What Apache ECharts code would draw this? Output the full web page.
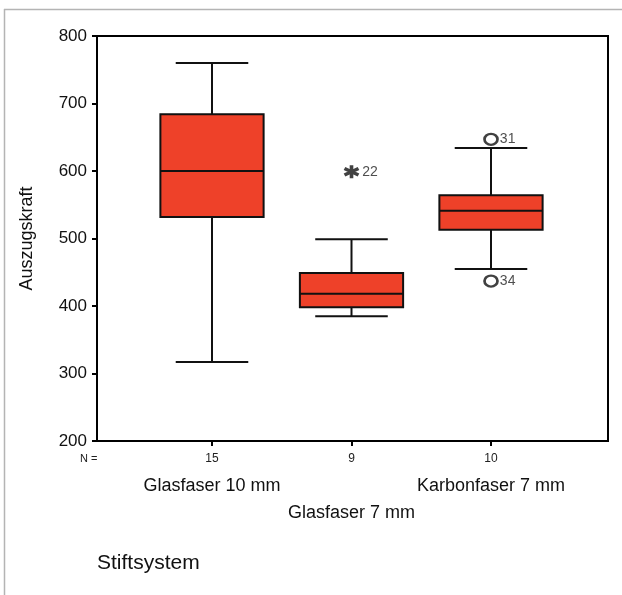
<!DOCTYPE html>
<html><head><meta charset="utf-8">
<script src="https://cdn.jsdelivr.net/npm/echarts@6/dist/echarts.min.js"></script>
<style>html,body{margin:0;padding:0;background:#fff}#c{width:622px;height:595px}</style>
</head><body><div id="c"></div>
<script>
var categories = ['Glasfaser 10 mm', 'Glasfaser 7 mm', 'Karbonfaser 7 mm'];
var nValues = ['15', '9', '10'];
// [low whisker, Q1, median, Q3, high whisker]
var glas10 = [317, 532, 600, 684, 760];
var glas7 = [385, 398, 418, 449, 499];
var karbon7 = [455, 513, 541, 564, 634];
var extremes = [[1, 599, '22']];           // asterisk
var outliers = [[2, 647, '31'], [2, 437, '34']]; // circles
var yTicks = [200, 300, 400, 500, 600, 700, 800];

var boxes = [glas10, glas7, karbon7].map(function (b, i) { return [i].concat(b); });
var font = 'Liberation Sans, Arial, sans-serif';

var chart = echarts.init(document.getElementById('c'), null, {renderer: 'canvas'});
chart.setOption({
  animation: false,
  backgroundColor: '#fff',
  graphic: [
    {type: 'line', shape: {x1: 4, y1: 9.5, x2: 622, y2: 9.5}, style: {stroke: '#b4b4b4', lineWidth: 1.5}},
    {type: 'line', shape: {x1: 4.5, y1: 9, x2: 4.5, y2: 595}, style: {stroke: '#b4b4b4', lineWidth: 1.5}},
    {type: 'text', left: 80, top: 453, style: {text: 'N =', font: '11px ' + font, fill: '#222'}},
    {type: 'text', left: 97, top: 553, style: {text: 'Stiftsystem', font: '21px ' + font, fill: '#111'}}
  ],
  grid: [
    {left: 97, top: 36, width: 511, height: 405, show: true, borderColor: '#000', borderWidth: 2, backgroundColor: 'transparent'},
    {left: 142.25, top: 36, width: 418.5, height: 405}
  ],
  xAxis: [
    {gridIndex: 0, type: 'value', min: 0, max: 1, show: false},
    {gridIndex: 1, type: 'category', data: categories, boundaryGap: true,
      axisLine: {show: false},
      axisTick: {show: true, alignWithLabel: true, length: 5, lineStyle: {color: '#000', width: 2}},
      axisLabel: {interval: 0, margin: 10, color: '#111', fontFamily: font,
        formatter: function (v, i) {
          return '{n|' + nValues[i] + '}\n' + (i === 1 ? '{d|' + v + '}' : '{c|' + v + '}');
        },
        rich: {
          n: {fontSize: 12, lineHeight: 16, fontFamily: font, color: '#222'},
          c: {fontSize: 18, lineHeight: 38, fontFamily: font, color: '#111'},
          d: {fontSize: 18, lineHeight: 92, fontFamily: font, color: '#111'}
        }
      }
    }
  ],
  yAxis: [
    {gridIndex: 0, type: 'value', min: yTicks[0], max: yTicks[yTicks.length - 1], interval: 100,
      name: 'Auszugskraft', nameLocation: 'middle', nameGap: 61, nameRotate: 90,
      nameTextStyle: {fontSize: 18, fontFamily: font, color: '#111'},
      axisLine: {show: true, lineStyle: {color: '#000', width: 2}},
      axisTick: {show: true, length: 5, lineStyle: {color: '#000', width: 2}},
      axisLabel: {margin: 10, fontSize: 17, fontFamily: font, color: '#111'},
      splitLine: {show: false}
    },
    {gridIndex: 1, type: 'value', min: yTicks[0], max: yTicks[yTicks.length - 1], interval: 100, show: false}
  ],
  series: [
    {
      type: 'custom', xAxisIndex: 1, yAxisIndex: 1,
      encode: {x: 0, y: [1, 2, 3, 4, 5]},
      data: boxes,
      renderItem: function (params, api) {
        var i = api.value(0);
        var band = api.size([1, 0])[0];
        var bw = band * 0.74, cw = band * 0.52;
        var lo = api.coord([i, api.value(1)]);
        var q1 = api.coord([i, api.value(2)]);
        var md = api.coord([i, api.value(3)]);
        var q3 = api.coord([i, api.value(4)]);
        var hi = api.coord([i, api.value(5)]);
        var x = lo[0];
        var ls = {stroke: '#111', lineWidth: 2};
        return {type: 'group', children: [
          {type: 'line', shape: {x1: x, y1: hi[1], x2: x, y2: q3[1]}, style: ls},
          {type: 'line', shape: {x1: x, y1: q1[1], x2: x, y2: lo[1]}, style: ls},
          {type: 'line', shape: {x1: x - cw / 2, y1: hi[1], x2: x + cw / 2, y2: hi[1]}, style: ls},
          {type: 'line', shape: {x1: x - cw / 2, y1: lo[1], x2: x + cw / 2, y2: lo[1]}, style: ls},
          {type: 'rect', shape: {x: x - bw / 2, y: q3[1], width: bw, height: q1[1] - q3[1]},
            style: {fill: '#EE4129', stroke: '#111', lineWidth: 2}},
          {type: 'line', shape: {x1: x - bw / 2, y1: md[1], x2: x + bw / 2, y2: md[1]}, style: ls}
        ]};
      }
    },
    {
      type: 'scatter', xAxisIndex: 1, yAxisIndex: 1,
      data: extremes,
      symbol: 'path://M0,-6L0,6M-5.2,-3L5.2,3M-5.2,3L5.2,-3',
      symbolSize: [14, 13],
      itemStyle: {color: '#111', borderColor: '#111', borderWidth: 3.5},
      label: {show: true, position: 'right', distance: 2, formatter: function (p) { return p.value[2]; },
        fontSize: 14, fontFamily: font, color: '#222'}
    },
    {
      type: 'scatter', xAxisIndex: 1, yAxisIndex: 1,
      data: outliers,
      symbol: 'circle', symbolSize: [13, 11],
      itemStyle: {color: '#fff', borderColor: '#111', borderWidth: 2.5},
      label: {show: true, position: 'right', distance: 1, formatter: function (p) { return p.value[2]; },
        fontSize: 14, fontFamily: font, color: '#222'}
    }
  ]
});
</script></body></html>
